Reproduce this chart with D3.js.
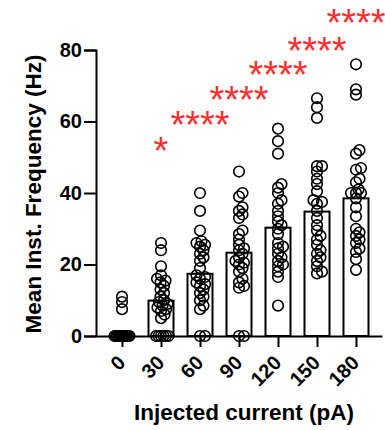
<!DOCTYPE html>
<html>
<head>
<meta charset="utf-8">
<script src="https://cdn.jsdelivr.net/npm/d3@7"></script>
<style>
  body { margin: 0; background: #fff; }
  svg text { font-family: "Liberation Sans", Arial, Helvetica, sans-serif; }
</style>
</head>
<body>
<svg id="chart" width="385" height="430"></svg>
<script>
const categories = ["0", "30", "60", "90", "120", "150", "180"];
const means = [0, 9.9, 17.4, 23.3, 30.3, 34.8, 38.5];

// individual cells (Hz)
const pts0 = [11, 9.5, 7.5, 0, 0, 0, 0, 0, 0, 0, 0, 0, 0, 0, 0, 0, 0, 0, 0, 0, 0, 0, 0, 0, 0];
const pts30 = [26, 24, 19.5, 17, 16, 15.5, 15, 14, 13, 12, 11, 10, 9.5, 9, 8.5, 8, 7.5, 7, 6, 5, 0, 0, 0, 0, 0, 0];
const pts60 = [40, 35, 29.5, 26.5, 26, 25.5, 25, 24, 23, 22, 21, 19, 17, 16.5, 16, 15, 14.5, 14, 13, 12, 11, 10, 8.5, 7.5, 0, 0];
const pts90 = [46, 40, 39, 36, 35, 34, 33, 29.5, 28.5, 27, 25.5, 24.5, 24, 23, 22, 21, 20.5, 20, 19, 18, 16, 15, 14, 13.5, 0, 0];
const pts120 = [58, 54.5, 51, 42.5, 41.5, 40, 38, 37, 35, 33.5, 32, 31, 30, 28.5, 26, 25, 24.5, 23, 22, 21, 20, 19.5, 18, 16.5, 8.5];
const pts150 = [66.5, 64, 61, 47.5, 47.5, 46, 44, 42.5, 40.5, 38, 37.5, 37, 35, 33, 31, 29.5, 28, 27, 25.5, 24, 23, 22, 21, 19.5, 18, 17.5];
const pts180 = [76, 69, 67.5, 52, 51, 47, 46.5, 44, 43, 41, 40, 40, 40, 38.5, 36, 33.5, 30, 29, 28, 27, 26, 24.5, 23.5, 21.5, 18.5];
const points = [pts0, pts30, pts60, pts90, pts120, pts150, pts180];

// significance vs 0 pA, and the height (Hz) each label sits at
const sigLabels = ["", "*", "****", "****", "****", "****", "****"];
const sigY = [null, 54.3, 61.5, 68.6, 75.5, 82.3, 90];

const yTicks = [0, 20, 40, 60, 80];

const svg = d3.select("#chart");

const x = d3.scalePoint()
  .domain(categories)
  .range([96, 382])
  .padding(0.667);

const y = d3.scaleLinear()
  .domain([0, 80])
  .range([336, 50]);

const barWidth = 25;
const r = 5.3;

// bars (means)
svg.append("g")
  .selectAll("rect")
  .data(means)
  .join("rect")
  .attr("x", (d, i) => x(categories[i]) - barWidth / 2)
  .attr("y", d => y(d))
  .attr("width", barWidth)
  .attr("height", d => y(0) - y(d))
  .attr("fill", "#fff")
  .attr("stroke", "#000")
  .attr("stroke-width", 2);

// simple beeswarm so the dots spread sideways like in Prism
function swarm(vals) {
  const placed = [];
  const minDist = 5, step = 0.5, maxOff = 7.5;
  const order = vals.map((v, i) => i).sort((a, b) => vals[a] - vals[b]);
  const out = new Array(vals.length);
  order.forEach(i => {
    const py = y(vals[i]);
    let best = 0, bestD = -1;
    for (let k = 0; k <= maxOff / step; k++) {
      const cands = k === 0 ? [0] : [k * step, -k * step];
      let found = false;
      for (const dx of cands) {
        let dmin = Infinity;
        placed.forEach(p => {
          const d = Math.hypot(p.dx - dx, p.py - py);
          if (d < dmin) dmin = d;
        });
        if (dmin >= minDist) { best = dx; found = true; break; }
        if (dmin > bestD) { bestD = dmin; best = dx; }
      }
      if (found) break;
    }
    placed.push({ dx: best, py });
    out[i] = best;
  });
  return out;
}

points.forEach((vals, gi) => {
  const offs = swarm(vals);
  svg.append("g")
    .selectAll("circle")
    .data(vals)
    .join("circle")
    .attr("cx", (d, i) => x(categories[gi]) + offs[i])
    .attr("cy", d => y(d))
    .attr("r", r)
    .attr("fill", "none")
    .attr("stroke", "#000")
    .attr("stroke-width", 1.6);
});

// y axis
const yAxis = svg.append("g")
  .attr("transform", `translate(96,0)`)
  .call(d3.axisLeft(y).tickValues(yTicks).tickSize(12).tickPadding(2));
yAxis.select(".domain").attr("stroke-width", 2);
yAxis.selectAll(".tick line").attr("stroke-width", 2);
yAxis.selectAll("text")
  .style("font-size", "20px")
  .style("font-weight", "bold")
  .attr("fill", "#000");

// x axis
const xAxis = svg.append("g")
  .attr("transform", `translate(0,${y(0)})`)
  .call(d3.axisBottom(x).tickSize(11).tickSizeOuter(0));
xAxis.select(".domain").attr("stroke-width", 2);
xAxis.selectAll(".tick line").attr("stroke-width", 2);
xAxis.selectAll("text")
  .attr("y", 0)
  .attr("dy", 0)
  .attr("transform", "translate(4,28) rotate(-45)")
  .style("text-anchor", "end")
  .style("font-size", "20px")
  .style("font-weight", "bold")
  .attr("fill", "#000");

// significance stars
svg.append("g")
  .selectAll("text")
  .data(sigLabels)
  .join("text")
  .attr("x", (d, i) => x(categories[i]))
  .attr("y", (d, i) => sigY[i] == null ? 0 : y(sigY[i]) + 22)
  .attr("text-anchor", "middle")
  .attr("fill", "#ff2d2d")
  .style("font-size", "38px")
  .text(d => d);

// axis titles
svg.append("text")
  .attr("transform", "translate(41,194) rotate(-90)")
  .attr("text-anchor", "middle")
  .style("font-size", "22.5px")
  .style("font-weight", "bold")
  .text("Mean Inst. Frequency (Hz)");

svg.append("text")
  .attr("x", 244)
  .attr("y", 420)
  .attr("text-anchor", "middle")
  .style("font-size", "22.5px")
  .style("font-weight", "bold")
  .text("Injected current (pA)");
</script>
</body>
</html>
